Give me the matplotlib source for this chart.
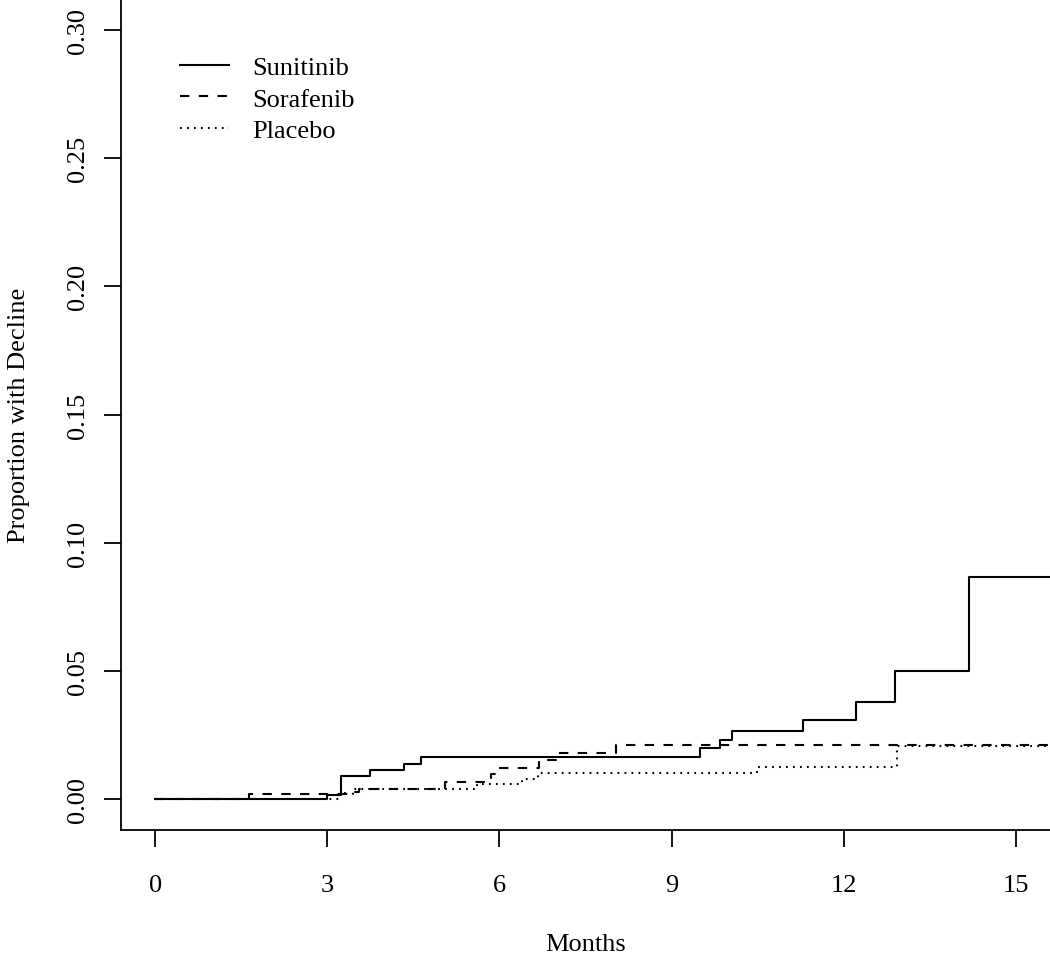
# 生存曲線 (累積割合)
import matplotlib
matplotlib.use("Agg")
import matplotlib.pyplot as plt

plt.rcParams['font.family'] = ['Liberation Serif', 'DejaVu Serif']

# Sunitinib
suni_t = [0, 2.99, 3.24, 3.74, 4.34, 4.64, 9.49, 9.85, 10.05, 11.29, 12.22, 12.90, 14.19, 16.0]
suni_p = [0, 0.0018, 0.0091, 0.0113, 0.0139, 0.0163, 0.0198, 0.0232, 0.0267, 0.0310, 0.0380, 0.0499, 0.0867, 0.0867]

# Sorafenib
sora_t = [0, 1.64, 3.30, 3.55, 5.05, 5.86, 5.97, 6.69, 6.98, 8.03, 16.0]
sora_p = [0, 0.0020, 0.0029, 0.0039, 0.0068, 0.0098, 0.0122, 0.0154, 0.0182, 0.0212, 0.0212]

# Placebo
plac_t = [0, 3.20, 3.45, 5.60, 6.40, 6.68, 10.49, 12.93, 16.0]
plac_p = [0, 0.0020, 0.0039, 0.0059, 0.0078, 0.0102, 0.0126, 0.0208, 0.0208]

labels = ["Sunitinib", "Sorafenib", "Placebo"]
xticks = [0, 3, 6, 9, 12, 15]
yticks = [0.00, 0.05, 0.10, 0.15, 0.20, 0.25, 0.30]

fs = 19
lw = 1.5

fig = plt.figure(figsize=(10.5, 9.54), dpi=100)
ax = fig.add_axes([121/1050, 1 - 831/954, 1 - 121/1050, 831/954])

ax.step(suni_t, suni_p, where='post', color='black', lw=lw, label=labels[0])
ax.step(sora_t, sora_p, where='post', color='black', lw=lw, label=labels[1],
        linestyle=(0, (4.5, 4.5)))
ax.step(plac_t, plac_p, where='post', color='black', lw=lw, label=labels[2],
        linestyle=(0, (0.85, 2.5)))

ax.set_xlim(-0.6, 15.6)
ax.set_ylim(-0.012, 0.312)
ax.set_xticks(xticks)
ax.set_xticklabels([str(v) for v in xticks])
ax.set_yticks(yticks)
ax.set_yticklabels(["%.2f" % v for v in yticks], rotation=90, va='center')

ax.spines['top'].set_visible(False)
ax.spines['right'].set_visible(False)
ax.spines['left'].set_linewidth(1.3)
ax.spines['bottom'].set_linewidth(1.3)
ax.tick_params(axis='both', direction='out', length=12, width=1.3, labelsize=fs)
ax.tick_params(axis='x', pad=20)
ax.tick_params(axis='y', pad=11)

ax.set_xlabel("Months", fontsize=fs, labelpad=26)
ax.set_ylabel("Proportion with Decline", fontsize=fs, labelpad=27)

leg = ax.legend(loc='upper left', bbox_to_anchor=((169 - 121) / 929, 1 - 46 / 831),
                borderaxespad=0, frameon=False, fontsize=fs, handlelength=1.86,
                handletextpad=0.9, labelspacing=0.31, borderpad=0.4)

fig.savefig("out.png", dpi=100)
